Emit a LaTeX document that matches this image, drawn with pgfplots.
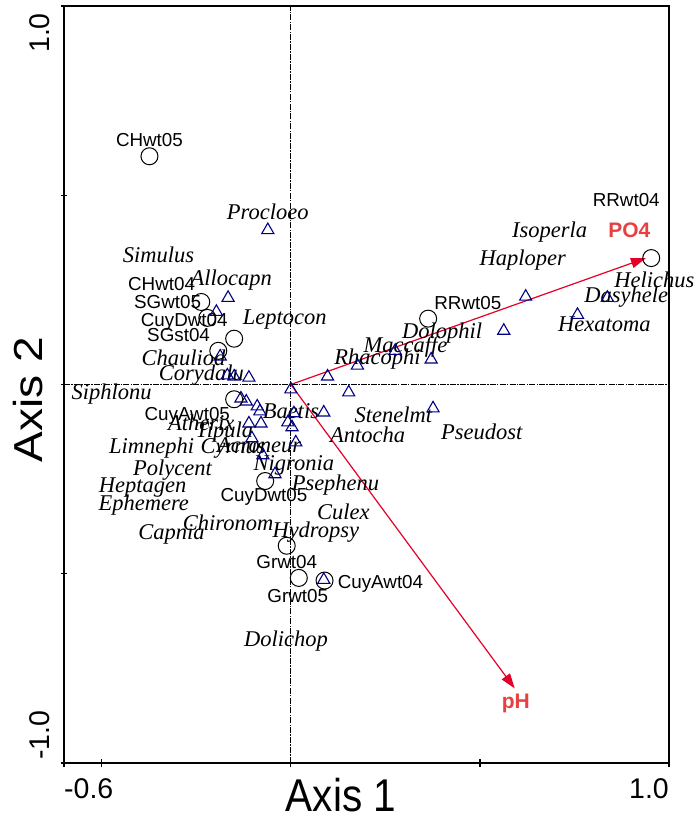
\documentclass[border=0pt]{standalone}
\usepackage{fontspec}
\setmainfont{Liberation Sans}
\newfontfamily\spfont{Liberation Serif}
\usepackage{pgfplots}
\usepackage{pgfplotstable}
\pgfplotsset{compat=1.18}
\usetikzlibrary{arrows.meta}

\definecolor{vecred}{RGB}{228,0,40}
\definecolor{veclab}{RGB}{232,64,64}
\definecolor{spnavy}{RGB}{0,0,128}

\newcommand\sitefont{\fontsize{18.8bp}{19bp}\selectfont}
\newcommand\specfont{\spfont\itshape\fontsize{22.5bp}{23bp}\selectfont}
\newcommand\tickfont{\fontsize{28.5bp}{29bp}\selectfont}
\newcommand\titlefont{\fontsize{46bp}{47bp}\selectfont}

% sample units (sites)
\pgfplotstableread{
x y
-0.374 0.603
-0.237 0.218
-0.221 0.176
-0.150 0.121
-0.192 0.089
-0.150 -0.039
-0.068 -0.255
-0.011 -0.426
0.021 -0.511
0.089 -0.518
0.363 0.174
0.953 0.334
}\sites

% site labels
\pgfplotstableread{
x y lab
-0.374 0.645 CHwt05
-0.342 0.266 CHwt04
-0.326 0.218 SGwt05
-0.282 0.166 CuyDwt04
-0.297 0.132 SGst04
-0.274 -0.084 CuyAwt05
-0.071 -0.297 CuyDwt05
-0.011 -0.468 Grwt04
0.018 -0.558 Grwt05
0.237 -0.526 CuyAwt04
0.468 0.216 RRwt05
0.887 0.487 RRwt04
}\sitelabs

% taxa
\pgfplotstableread{
x y
-0.061 0.408
-0.166 0.229
-0.197 0.192
-0.187 0.074
-0.168 0.024
-0.150 0.021
-0.111 0.018
0.000 -0.013
-0.132 -0.037
-0.118 -0.045
-0.089 -0.058
-0.082 -0.071
-0.111 -0.103
-0.079 -0.103
-0.103 -0.142
-0.074 -0.187
-0.042 -0.237
-0.008 -0.100
0.003 -0.113
0.008 -0.076
0.013 -0.153
0.087 -0.074
0.097 0.021
0.176 0.050
0.153 -0.021
0.276 0.089
0.371 0.066
0.376 -0.063
0.563 0.142
0.621 0.232
0.758 0.184
0.837 0.229
0.087 -0.516
}\taxa

% taxon labels
\pgfplotstableread{
x y lab
-0.061 0.455 Procloeo
-0.350 0.342 Simulus
-0.158 0.276 Allocapn
-0.016 0.171 Leptocon
-0.284 0.071 Chauliod
-0.237 0.026 Corydalu
-0.474 -0.026 Siphlonu
-0.237 -0.100 Atherix
-0.176 -0.126 Tipula
0.000 -0.071 Baetis
-0.153 -0.168 Cyrnus
-0.084 -0.161 Acroneur
-0.368 -0.168 Limnephi
-0.313 -0.226 Polycent
-0.392 -0.271 Heptagen
-0.389 -0.318 Ephemere
-0.166 -0.366 Chironom
-0.316 -0.397 Capnia
0.008 -0.213 Nigronia
0.118 -0.266 Psephenu
0.139 -0.337 Culex
0.066 -0.389 Hydropsy
-0.013 -0.679 Dolichop
0.203 -0.134 Antocha
0.271 -0.079 Stenelmt
0.505 -0.124 Pseudost
0.229 0.066 Rhacophi
0.303 0.100 Maccaffe
0.400 0.137 Dolophil
0.613 0.329 Haploper
0.684 0.403 Isoperla
0.961 0.276 Helichus
0.887 0.232 Dasyhele
0.829 0.158 Hexatoma
}\taxlabs

% environmental vectors
\pgfplotstableread{
x y lab
0.895 0.408 PO4
0.595 -0.842 pH
}\veclabs

\begin{document}
\begin{tikzpicture}
\begin{axis}[
  name=ax,
  scale only axis,
  width=605bp, height=757bp,
  xmin=-0.6, xmax=1, ymin=-1, ymax=1,
  xtick={-0.6,-0.5,0,0.5,1},
  ytick={-1,-0.5,0,0.5,1},
  xticklabels={}, yticklabels={},
  xtick pos=bottom, ytick pos=left,
  tick align=center,
  major tick length=7bp,
  axis line style={line width=1.2bp},
  every tick/.style={black, line width=1.2bp},
  clip=false,
  every node near coord/.append style={anchor=center, inner sep=0pt},
]
% zero lines
\addplot[black, line width=1.2bp, dash pattern=on 6bp off 1.2bp on 1.5bp off 1.2bp]
  coordinates {(-0.6,0) (1,0)};
\addplot[black, line width=1.2bp, dash pattern=on 6bp off 1.2bp on 1.5bp off 1.2bp]
  coordinates {(0,-1) (0,1)};

% labels
\addplot[only marks, mark=none, nodes near coords, point meta=explicit symbolic,
  every node near coord/.append style={font=\specfont, text=black}]
  table[meta=lab] {\taxlabs};
\addplot[only marks, mark=none, nodes near coords, point meta=explicit symbolic,
  every node near coord/.append style={font=\sitefont, text=black}]
  table[meta=lab] {\sitelabs};

% biplot vectors
\addplot[vecred, line width=1.2bp, -{Triangle[length=15bp,width=10bp]}]
  coordinates {(0,0) (0.939,0.334)};
\addplot[vecred, line width=1.2bp, -{Triangle[length=15bp,width=10bp]}]
  coordinates {(0,0) (0.592,-0.803)};
\addplot[only marks, mark=none, nodes near coords, point meta=explicit symbolic,
  every node near coord/.append style={font=\fontsize{21bp}{22bp}\selectfont\bfseries, text=veclab}]
  table[meta=lab] {\veclabs};

% points
\addplot[only marks, mark=triangle, mark size=7bp,
  mark options={draw=spnavy, line width=1.1bp, fill=none}]
  table {\taxa};
\addplot[only marks, mark=o, mark size=8.5bp,
  mark options={draw=black, line width=1bp, fill=none}]
  table {\sites};
\end{axis}

% tick labels at the axis ends
\node[font=\tickfont, anchor=north west, inner sep=0pt] at ([yshift=-15bp]ax.south west) {-0.6};
\node[font=\tickfont, anchor=north east, inner sep=0pt] at ([yshift=-15bp]ax.south east) {1.0};
\node[font=\tickfont, rotate=90, anchor=south east, inner sep=0pt] at ([xshift=-14bp,yshift=-7bp]ax.north west) {1.0};
\node[font=\tickfont, rotate=90, anchor=south west, inner sep=0pt] at ([xshift=-14bp,yshift=3bp]ax.south west) {-1.0};

% axis titles
\node[font=\titlefont, xscale=0.88, inner sep=0pt] at ([xshift=277bp,yshift=-32bp]ax.south west) {Axis 1};
\node[font=\titlefont, xscale=0.88, rotate=90, inner sep=0pt] at ([xshift=-36bp,yshift=363bp]ax.south west) {Axis 2};

\pgfresetboundingbox
\path[use as bounding box] ([xshift=-64bp,yshift=-58bp]ax.south west) rectangle ([xshift=29bp,yshift=6bp]ax.north east);
\end{tikzpicture}
\end{document}
